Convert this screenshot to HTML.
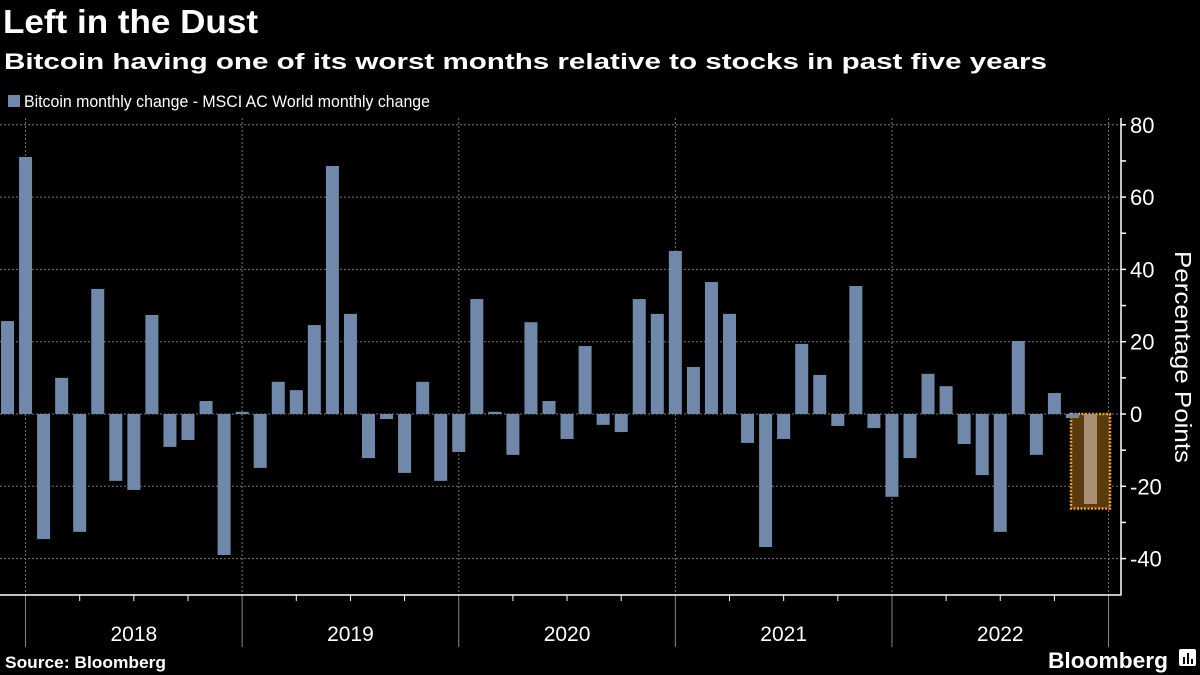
<!DOCTYPE html>
<html><head><meta charset="utf-8"><style>
html,body{margin:0;padding:0;background:#000;}
svg{display:block;font-family:"Liberation Sans",sans-serif;}
</style></head><body>
<svg id="chart" width="1200" height="675" viewBox="0 0 1200 675" xmlns="http://www.w3.org/2000/svg">
<rect width="1200" height="675" fill="#000"/>
<text x="3" y="33" fill="#fff" font-size="33" font-weight="bold" textLength="255" lengthAdjust="spacingAndGlyphs">Left in the Dust</text>
<text x="4" y="69" fill="#fff" font-size="22" font-weight="bold" textLength="1043" lengthAdjust="spacingAndGlyphs">Bitcoin having one of its worst months relative to stocks in past five years</text>
<rect x="8" y="95" width="12" height="12" fill="#7089ab"/>
<text x="24" y="107" fill="#fff" font-size="17" textLength="406" lengthAdjust="spacingAndGlyphs">Bitcoin monthly change - MSCI AC World monthly change</text>
<g id="grid"></g>
<g id="bars"></g>
<g id="axes"></g>
<text transform="translate(1175,357) rotate(90)" text-anchor="middle" fill="#fff" font-size="23" textLength="212" lengthAdjust="spacingAndGlyphs">Percentage Points</text>
<text x="5" y="668" fill="#fff" font-size="17" font-weight="bold" textLength="161" lengthAdjust="spacingAndGlyphs">Source: Bloomberg</text>
<text x="1048" y="668" fill="#fff" font-size="22" font-weight="bold" textLength="120" lengthAdjust="spacingAndGlyphs">Bloomberg</text>
<g>
<rect x="1179" y="649" width="17" height="17" rx="2" fill="#fff"/>
<rect x="1183" y="657" width="2" height="7" fill="#000"/><rect x="1187" y="653" width="2" height="11" fill="#000"/><rect x="1191" y="659" width="2" height="5" fill="#000"/>
</g>
</svg>
<script>
const values = [25.7,71.1,-34.6,10.0,-32.6,34.6,-18.5,-21.0,27.4,-9.1,-7.2,3.6,-39.0,0.6,-14.9,8.9,6.6,24.6,68.6,27.7,-12.2,-1.4,-16.3,8.9,-18.5,-10.5,31.8,0.6,-11.3,25.4,3.6,-6.9,18.8,-3.0,-5.0,31.8,27.7,45.1,13.0,36.5,27.7,-8.0,-36.8,-6.9,19.4,10.8,-3.3,35.4,-3.9,-22.9,-12.2,11.1,7.7,-8.3,-16.9,-32.6,20.2,-11.3,5.8,-1.1,-24.9];
const yTicks = [80,60,40,20,0,-20,-40];
const yearLabels = ["2018","2019","2020","2021","2022"];
const NS="http://www.w3.org/2000/svg";
const yMin=-50,yMax=82;
function y(v){return 414 - v*3.615;}
function x(i){return 7.5 + i*18.05;}   // month index center (0 = Dec 2017)
function mk(tag,attrs,parent){const e=document.createElementNS(NS,tag);for(const k in attrs)e.setAttribute(k,attrs[k]);parent.appendChild(e);return e;}
const grid=document.getElementById('grid'),bars=document.getElementById('bars'),axes=document.getElementById('axes');
const plotR=1121, plotB=595;
yTicks.forEach(t=>{
  const l=mk('line',{x1:0,x2:plotR,y1:y(t),y2:y(t),stroke:'#777','stroke-width':1,'stroke-dasharray':'2,2'},grid);
  
  
  const lb=mk('text',{x:plotR+9,y:y(t)+8,fill:'#fff','font-size':22},axes);
  lb.textContent=(t<0?'-'+Math.abs(t):t);
  
  
});
for(let v=-40;v<=80;v+=10){
  const tk=mk('line',{x1:plotR,x2:plotR+5,y1:y(v),y2:y(v),stroke:'#fff','stroke-width':1.5},axes);
  
  
}
// year boundaries at month index 1 + 12k
for(let k=0;k<=5;k++){
  const xb=x(1+12*k);
  const g=mk('line',{x1:xb,x2:xb,y1:118,y2:plotB,stroke:'#777','stroke-width':1,'stroke-dasharray':'2,2'},grid);
  
  
  const t=mk('line',{x1:xb,x2:xb,y1:plotB,y2:647,stroke:'#888','stroke-width':1},axes);
  
  
  if(k<5){
    for(let q=1;q<4;q++){const qx=x(1+12*k+3*q);const qt=mk('line',{x1:qx,x2:qx,y1:plotB,y2:601,stroke:'#fff','stroke-width':1},axes);
      
      }
    const lb=mk('text',{x:(xb+x(13+12*k))/2,y:641,fill:'#fff','font-size':21,'text-anchor':'middle'},axes);
    lb.textContent=yearLabels[k];
    
    
  }
}
const last=values.length-1;
const hb=mk('rect',{x:x(last)-19.5,y:y(0),width:39,height:y(values[last])-y(0)+4.5,fill:'#5a3a0c',stroke:'#f0a020','stroke-width':2.5,'stroke-dasharray':'2,1.5'},bars);


values.forEach((v,i)=>{
  const top=Math.min(y(v),y(0)),h=Math.max(Math.abs(y(v)-y(0)),1);
  const r=mk('rect',{x:x(i)-6.5,y:top,width:13,height:h,fill:i===last?'#a89070':'#7089ab'},bars);
  
  
});
const ax=mk('line',{x1:0,x2:plotR+0.5,y1:plotB,y2:plotB,stroke:'#fff','stroke-width':1.5},axes);


const ay=mk('line',{x1:plotR,x2:plotR,y1:118,y2:plotB,stroke:'#fff','stroke-width':1.5},axes);


</script>
</body></html>
